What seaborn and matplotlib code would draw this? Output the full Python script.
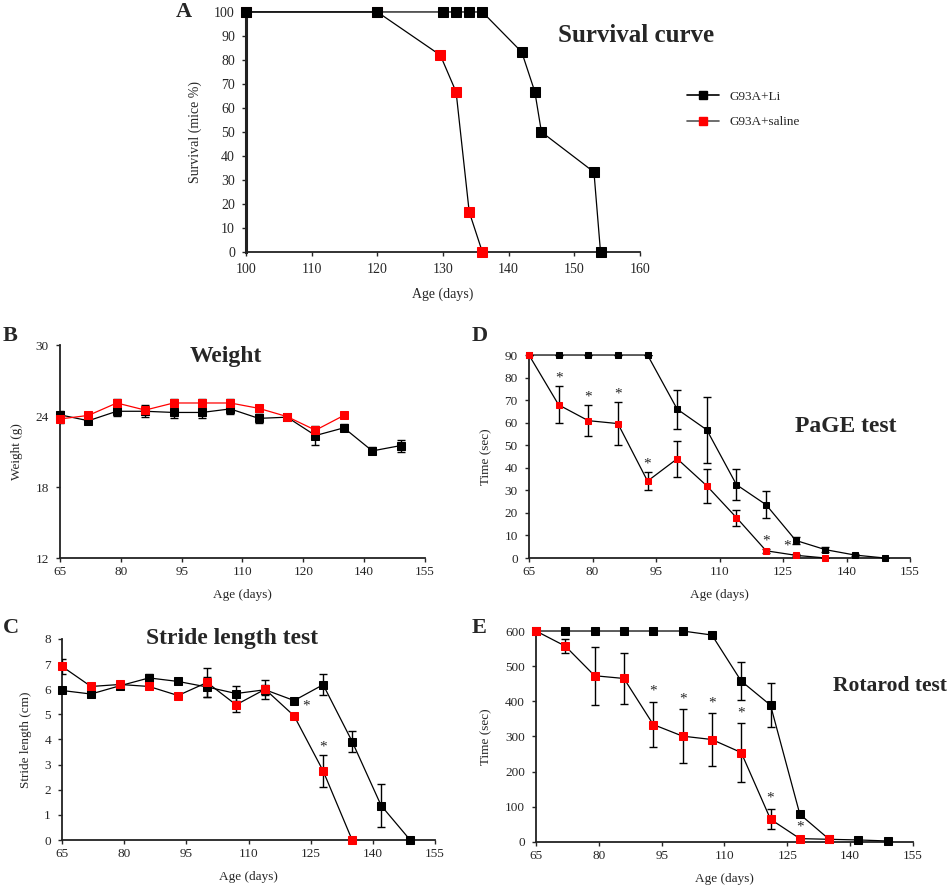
import matplotlib
matplotlib.use("Agg")
import matplotlib.pyplot as plt
import seaborn as sns
from matplotlib.lines import Line2D

# ---- data ----
# A: survival curve
surv_li_days = [100, 120, 130, 132, 134, 136, 142, 144, 145, 153, 154]
surv_li = [100, 100, 100, 100, 100, 100, 83.3, 66.7, 50, 33.3, 0]
surv_sal_days = [100, 120, 129.6, 132, 134, 136]
surv_sal = [100, 100, 82, 66.7, 16.7, 0]

# weekly time points for B-E
days_li = [65, 72, 79, 86, 93, 100, 107, 114, 121, 128, 135, 142, 149]
days_sal = [65, 72, 79, 86, 93, 100, 107, 114, 121, 128, 135]

# B: weight (g)
weight_li = [24.1, 23.6, 24.4, 24.4, 24.3, 24.3, 24.6, 23.8, 23.9, 22.35, 23.0, 21.05, 21.5]
weight_li_err = [0.3, 0.3, 0.4, 0.5, 0.5, 0.5, 0.4, 0.4, 0.2, 0.8, 0.3, 0.3, 0.5]
weight_sal = [23.75, 24.05, 25.1, 24.5, 25.1, 25.1, 25.1, 24.65, 23.95, 22.8, 24.05]
weight_sal_err = [0.3, 0.3, 0.3, 0.3, 0.3, 0.3, 0.3, 0.3, 0.2, 0.3, 0.2]

# D: PaGE test (sec)
page_li = [90, 90, 90, 90, 90, 66.0, 56.8, 32.5, 23.6, 7.8, 3.7, 1.3, 0]
page_li_err = [0, 0, 0, 0, 0, 8.7, 14.5, 7.0, 6.0, 1.5, 1.0, 0.5, 0]
page_sal = [90, 67.9, 60.9, 59.6, 34.1, 44.0, 32.0, 17.9, 3.2, 1.2, 0]
page_sal_err = [0, 8.2, 7.0, 9.5, 4.0, 8.0, 7.5, 3.5, 1.0, 0.5, 0]
page_stars = [72, 79, 86, 93, 121, 126]

# C: stride length (cm)
stride_li = [5.95, 5.81, 6.14, 6.45, 6.31, 6.09, 5.83, 5.98, 5.55, 6.18, 3.92, 1.37, 0]
stride_li_err = [0.1, 0.1, 0.1, 0.15, 0.1, 0.38, 0.3, 0.2, 0.1, 0.42, 0.4, 0.86, 0]
stride_sal = [6.91, 6.11, 6.19, 6.11, 5.75, 6.27, 5.38, 6.0, 4.94, 2.75, 0]
stride_sal_err = [0.29, 0.1, 0.1, 0.1, 0.1, 0.57, 0.3, 0.38, 0.1, 0.63, 0]
stride_stars = [124, 128]

# E: rotarod (sec)
rota_li = [600, 600, 600, 600, 600, 600, 588.6, 457.6, 389, 78.8, 7.6, 5.7, 2.8]
rota_li_err = [0, 0, 0, 0, 0, 0, 0, 55, 63, 0, 0, 0, 0]
rota_sal = [600, 557, 472.8, 465, 334, 301, 291.4, 254.4, 64.6, 9.5, 7.6]
rota_sal_err = [0, 19, 83, 73, 65, 76, 74, 83, 29, 3, 0]
rota_stars = [93, 100, 107, 114, 121, 128]

sns.set_style("ticks")
plt.rcParams["font.family"] = ["Liberation Serif", "DejaVu Serif"]

fig = plt.figure(figsize=(9.48, 8.86), dpi=100)


def style_axes(ax, xlim, ylim, yticks, xticks, xlabels, ylabel, fs=9.5):
    ax.set_xlim(*xlim)
    ax.set_ylim(*ylim)
    ax.set_yticks(yticks)
    ax.set_xticks(xticks)
    ax.set_xticklabels(xlabels)
    sns.despine(ax=ax)
    for s in ["left", "bottom"]:
        ax.spines[s].set_linewidth(1.3)
        ax.spines[s].set_color("#222222")
    ax.tick_params(axis="both", direction="out", length=3, width=1,
                   labelsize=fs, pad=3)
    ax.tick_params(axis="y", pad=5)
    ax.set_xlabel("Age (days)", fontsize=fs, labelpad=8)
    ax.set_ylabel(ylabel, fontsize=fs, labelpad=9)


def draw_series(ax, x, y, err, face, line_color, ms, z):
    if err is not None:
        ax.errorbar(x, y, yerr=err, fmt="none", ecolor="black",
                    elinewidth=1.0, capsize=3, capthick=1.0, zorder=z)
    sns.lineplot(x=x, y=y, ax=ax, color=line_color, linewidth=0.9,
                 marker="s", markersize=ms, markerfacecolor=face,
                 markeredgecolor=face, clip_on=False, zorder=z + 1,
                 sort=False, legend=False)


def add_stars(ax, xs, x_pts, vals, errs, pad):
    for sx in xs:
        # nearest time point gives the height
        i = min(range(len(x_pts)), key=lambda k: abs(x_pts[k] - sx))
        ax.text(sx, vals[i] + errs[i] + pad, "*", ha="center", va="center",
                fontsize=11)


ticks_b = [65, 80, 95, 110, 125, 140, 155]

# ---- A: survival ----
axA = fig.add_axes([0.2595, 0.7156, 0.4155, 0.2709])
draw_series(axA, surv_sal_days, surv_sal, None, "red", "black", 7.2, 3)
draw_series(axA, surv_li_days, surv_li, None, "black", "black", 7.2, 5)
style_axes(axA, (100, 160), (0, 100), range(0, 101, 10),
           range(100, 161, 10), [str(t) for t in range(100, 161, 10)],
           "Survival (mice %)", fs=10)
axA.tick_params(axis="x", pad=5)
axA.spines["left"].set_linewidth(2.2)
axA.text(0.99, 0.904, "Survival curve", transform=axA.transAxes, ha="center",
         va="center", fontsize=18, fontweight="bold")
handles = [Line2D([], [], color="black", marker="s", markersize=6,
                  markerfacecolor="black", markeredgecolor="black", lw=1.2),
           Line2D([], [], color="#555555", marker="s", markersize=6,
                  markerfacecolor="red", markeredgecolor="red", lw=1.2)]
fig.legend(handles, ["G93A+Li", "G93A+saline"], loc="upper left",
           bbox_to_anchor=(0.712, 0.911), frameon=False, fontsize=9.5,
           handlelength=2.4, labelspacing=1.0)

# ---- B: weight ----
axB = fig.add_axes([0.0633, 0.3702, 0.385, 0.2404])
draw_series(axB, days_li, weight_li, weight_li_err, "black", "black", 5.8, 3)
draw_series(axB, days_sal, weight_sal, weight_sal_err, "red", "red", 5.8, 5)
style_axes(axB, (65, 155), (12, 30), [12, 18, 24, 30], ticks_b,
           ["65", "80", "95", "110", "120", "140", "155"], "Weight (g)")
axB.text(0.455, 0.948, "Weight", transform=axB.transAxes, ha="center",
         va="center", fontsize=17, fontweight="bold")

# ---- D: PaGE ----
axD = fig.add_axes([0.558, 0.3702, 0.402, 0.2291])
draw_series(axD, days_li, page_li, page_li_err, "black", "black", 5, 3)
draw_series(axD, days_sal, page_sal, page_sal_err, "red", "black", 5, 5)
add_stars(axD, page_stars, days_sal, page_sal, page_sal_err, 3.5)
style_axes(axD, (65, 155), (0, 90), range(0, 91, 10), ticks_b,
           [str(t) for t in ticks_b], "Time (sec)")
axD.text(0.83, 0.65, "PaGE test", transform=axD.transAxes, ha="center",
         va="center", fontsize=17, fontweight="bold")

# ---- C: stride length ----
axC = fig.add_axes([0.0654, 0.0519, 0.3935, 0.2269])
draw_series(axC, days_li, stride_li, stride_li_err, "black", "black", 6.3, 3)
draw_series(axC, days_sal, stride_sal, stride_sal_err, "red", "black", 6.3, 5)
add_stars(axC, stride_stars, days_sal, stride_sal, stride_sal_err, 0.3)
style_axes(axC, (65, 155), (0, 8), range(0, 9), ticks_b,
           [str(t) for t in ticks_b], "Stride length (cm)")
axC.text(0.456, 1.0, "Stride length test", transform=axC.transAxes,
         ha="center", va="center", fontsize=17, fontweight="bold")

# ---- E: rotarod ----
axE = fig.add_axes([0.5654, 0.0497, 0.3976, 0.2381])
draw_series(axE, days_li, rota_li, rota_li_err, "black", "black", 5.2, 3)
draw_series(axE, days_sal, rota_sal, rota_sal_err, "red", "black", 5.2, 5)
add_stars(axE, rota_stars, days_sal, rota_sal, rota_sal_err, 30)
style_axes(axE, (65, 155), (0, 600), range(0, 601, 100), ticks_b,
           [str(t) for t in ticks_b], "Time (sec)")
axE.text(1.09, 0.74, "Rotarod test", transform=axE.transAxes, ha="right",
         va="center", fontsize=15.5, fontweight="bold")

# panel letters
for lbl, x, y in [("A", 0.185, 0.998), ("B", 0.003, 0.632), ("C", 0.003, 0.302),
                  ("D", 0.497, 0.632), ("E", 0.497, 0.302)]:
    fig.text(x, y, lbl, fontsize=16, fontweight="bold", ha="left", va="top")

fig.savefig("out.png", dpi=100)
